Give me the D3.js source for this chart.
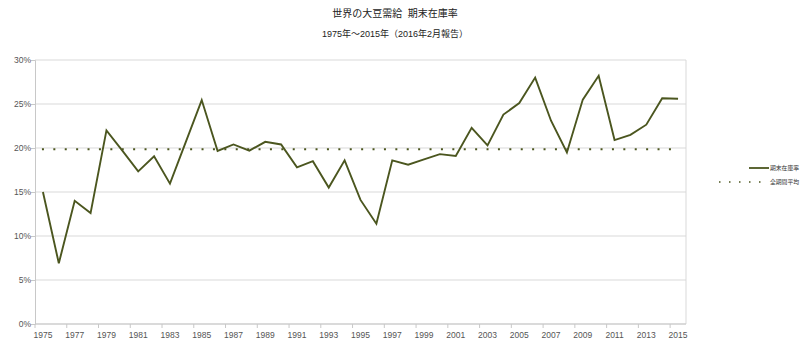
<!DOCTYPE html>
<html><head><meta charset="utf-8">
<script src="https://cdn.jsdelivr.net/npm/d3@7"></script>
<style>body{margin:0;background:#fff;} text{font-family:"Liberation Sans","Noto Sans CJK JP",sans-serif;}</style>
</head><body><svg id="c" width="800" height="349"></svg>
<script>
const years = d3.range(1975, 2016);
const stockRatio = [15.0,6.9,14.0,12.6,22.0,19.7,17.35,19.05,15.95,20.7,25.45,19.66,20.4,19.7,20.7,20.4,17.8,18.5,15.5,18.6,14.1,11.4,18.6,18.1,18.7,19.3,19.1,22.3,20.3,23.8,25.1,28.0,23.1,19.5,25.5,28.2,20.9,21.5,22.65,25.65,25.6];
const periodAverage = 19.85;
const yTicks = [0,5,10,15,20,25,30];
const xTickLabels = years.filter((y,i)=>i%2===0);
const title = "世界の大豆需給  期末在庫率";
const subtitle = "1975年～2015年（2016年2月報告）";
const seriesNames = ["期末在庫率","全期間平均"];

const svg = d3.select("#c");
const L=35, R=686, T=60, B=324;
const x = d3.scaleBand().domain(years).range([L,R]);
const y = d3.scaleLinear().domain([0,30]).range([B,T]);
const cx = d => x(d)+x.bandwidth()/2;
const lineColor = "#4b561f";

// gridlines
svg.append("g").selectAll("line").data(yTicks).join("line")
  .attr("x1",L).attr("x2",R).attr("y1",d=>y(d)).attr("y2",d=>y(d))
  .attr("stroke","#d9d9d9").attr("stroke-width",1);
svg.append("line").attr("x1",R).attr("x2",R).attr("y1",T).attr("y2",B).attr("stroke","#d9d9d9");

// y axis
const yAxis = d3.axisLeft(y).tickValues(yTicks).tickFormat(d=>d+"%").tickSize(4);
const gy = svg.append("g").attr("transform",`translate(${L},0)`).call(yAxis);
gy.select(".domain").attr("stroke","#c8c8c8");
gy.selectAll(".tick line").attr("stroke","#c8c8c8");
gy.selectAll("text").attr("fill","#555").attr("font-size",8.5).attr("x",-4);

// x axis
const gx = svg.append("g").attr("transform",`translate(0,${B})`);
gx.append("line").attr("x1",L).attr("x2",R).attr("stroke","#c8c8c8");
gx.selectAll("line.t").data(xTickLabels).join("line").attr("class","t")
  .attr("x1",d=>x(d)).attr("x2",d=>x(d)).attr("y1",0).attr("y2",4).attr("stroke","#c8c8c8");
gx.selectAll("text").data(xTickLabels).join("text")
  .attr("x",d=>cx(d)).attr("y",14).attr("text-anchor","middle")
  .attr("fill","#555").attr("font-size",8.5).text(d=>d);

// average dotted line
svg.append("line").attr("x1",cx(1975)-1).attr("x2",cx(2015)+1)
  .attr("y1",y(periodAverage)).attr("y2",y(periodAverage))
  .attr("stroke",lineColor).attr("stroke-width",2).attr("stroke-dasharray","2,9.4");

// main line
svg.append("path").datum(years.map((yr,i)=>[yr,stockRatio[i]]))
  .attr("fill","none").attr("stroke",lineColor).attr("stroke-width",1.9)
  .attr("stroke-linejoin","miter")
  .attr("d",d3.line().x(d=>cx(d[0])).y(d=>y(d[1])));

// titles
svg.append("text").attr("x",395).attr("y",17).attr("text-anchor","middle")
  .style("white-space","pre")
  .attr("font-size",10).attr("fill","#222").text(title);
svg.append("text").attr("x",395).attr("y",37).attr("text-anchor","middle")
  .attr("font-size",9).attr("fill","#222").text(subtitle);

// legend
const lg = svg.append("g");
lg.append("line").attr("x1",749).attr("x2",769).attr("y1",168).attr("y2",168)
  .attr("stroke",lineColor).attr("stroke-width",1.8);
lg.append("line").attr("x1",719).attr("x2",769).attr("y1",182).attr("y2",182)
  .attr("stroke",lineColor).attr("stroke-width",1.5).attr("stroke-dasharray","1.5,8.5");
lg.selectAll("text").data(seriesNames).join("text")
  .attr("x",770).attr("y",(d,i)=>170+i*14).attr("font-size",5.8)
  .attr("fill","#333").text(d=>d);
</script></body></html>
